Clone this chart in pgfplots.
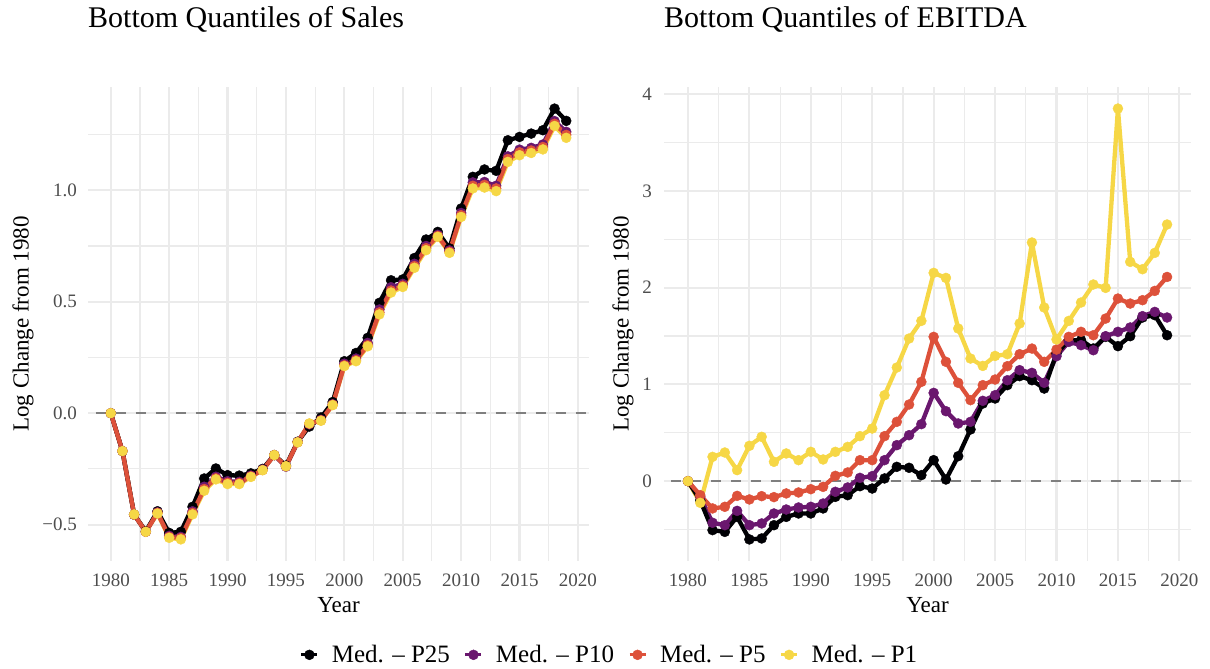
\documentclass[border=0pt]{standalone}
\usepackage{fontspec}
\setmainfont{Liberation Serif}
\usepackage{pgfplots}
\usepackage{pgfplotstable}
\pgfplotsset{compat=1.18}
\definecolor{cPa}{HTML}{000004}
\definecolor{cPb}{HTML}{6A176E}
\definecolor{cPc}{HTML}{DD513A}
\definecolor{cPd}{HTML}{F6D746}
\definecolor{gridc}{HTML}{EBEBEB}
\definecolor{tickc}{HTML}{4D4D4D}
\definecolor{zeroc}{HTML}{7F7F7F}

\pgfplotstableread{
year p25 p10 p5 p1
1980 0 0 0 0
1981 -0.17 -0.17 -0.17 -0.17
1982 -0.455 -0.455 -0.455 -0.454
1983 -0.53 -0.532 -0.532 -0.532
1984 -0.44 -0.445 -0.447 -0.45
1985 -0.537 -0.55 -0.555 -0.559
1986 -0.532 -0.555 -0.56 -0.566
1987 -0.42 -0.44 -0.447 -0.454
1988 -0.293 -0.33 -0.34 -0.348
1989 -0.248 -0.285 -0.292 -0.297
1990 -0.278 -0.305 -0.312 -0.318
1991 -0.28 -0.308 -0.313 -0.318
1992 -0.27 -0.28 -0.283 -0.286
1993 -0.25 -0.253 -0.255 -0.256
1994 -0.188 -0.188 -0.188 -0.188
1995 -0.235 -0.24 -0.238 -0.238
1996 -0.128 -0.13 -0.13 -0.131
1997 -0.06 -0.05 -0.048 -0.046
1998 -0.02 -0.03 -0.032 -0.034
1999 0.05 0.04 0.038 0.036
2000 0.233 0.222 0.215 0.211
2001 0.27 0.245 0.238 0.233
2002 0.338 0.315 0.305 0.30
2003 0.495 0.465 0.452 0.443
2004 0.596 0.565 0.55 0.541
2005 0.6 0.58 0.572 0.566
2006 0.696 0.67 0.66 0.652
2007 0.779 0.75 0.74 0.731
2008 0.813 0.80 0.795 0.791
2009 0.739 0.73 0.724 0.719
2010 0.918 0.898 0.888 0.88
2011 1.06 1.035 1.02 1.008
2012 1.093 1.037 1.024 1.012
2013 1.087 1.02 1.008 0.996
2014 1.224 1.152 1.14 1.127
2015 1.239 1.182 1.17 1.157
2016 1.254 1.19 1.178 1.167
2017 1.269 1.205 1.194 1.183
2018 1.366 1.31 1.298 1.288
2019 1.311 1.262 1.248 1.235
}\sales

\pgfplotstableread{
year p25 p10 p5 p1
1980 0 0 0 0
1981 -0.2 -0.16 -0.145 -0.224
1982 -0.506 -0.43 -0.282 0.251
1983 -0.524 -0.455 -0.265 0.296
1984 -0.369 -0.307 -0.152 0.114
1985 -0.602 -0.455 -0.189 0.365
1986 -0.592 -0.437 -0.155 0.458
1987 -0.455 -0.334 -0.165 0.2
1988 -0.369 -0.293 -0.127 0.286
1989 -0.334 -0.272 -0.117 0.217
1990 -0.334 -0.265 -0.083 0.303
1991 -0.282 -0.231 -0.059 0.224
1992 -0.162 -0.11 0.055 0.303
1993 -0.145 -0.065 0.09 0.354
1994 -0.052 0.034 0.217 0.465
1995 -0.076 0.052 0.217 0.544
1996 0.028 0.217 0.465 0.888
1997 0.148 0.372 0.613 1.174
1998 0.138 0.475 0.792 1.474
1999 0.062 0.589 1.026 1.656
2000 0.217 0.912 1.491 2.152
2001 0.017 0.723 1.233 2.1
2002 0.258 0.596 1.016 1.577
2003 0.534 0.613 0.837 1.267
2004 0.802 0.83 0.992 1.191
2005 0.854 0.888 1.05 1.294
2006 0.992 1.043 1.188 1.312
2007 1.085 1.147 1.312 1.629
2008 1.043 1.119 1.37 2.466
2009 0.957 1.016 1.233 1.794
2010 1.319 1.291 1.36 1.464
2011 1.457 1.439 1.491 1.656
2012 1.457 1.405 1.543 1.846
2013 1.371 1.353 1.508 2.032
2014 1.491 1.498 1.68 1.997
2015 1.395 1.543 1.887 3.85
2016 1.498 1.588 1.835 2.266
2017 1.691 1.705 1.87 2.19
2018 1.715 1.749 1.966 2.359
2019 1.508 1.691 2.11 2.652
}\ebitda

\pgfplotsset{
  panel/.style={
    scale only axis, height=474bp,
    xmin=1978.05, xmax=2020.95,
    axis line style={draw=none}, tick style={draw=none},
    xtick={1980,1985,1990,1995,2000,2005,2010,2015,2020},
    xticklabels={1980,1985,1990,1995,2000,2005,2010,2015,2020},
    minor xtick={1982.5,1987.5,1992.5,1997.5,2002.5,2007.5,2012.5,2017.5},
    grid=both,
    major grid style={gridc, line width=2.2bp},
    minor grid style={gridc, line width=1.1bp},
    ticklabel style={font=\fontsize{19bp}{22bp}\selectfont, text=tickc, inner sep=0pt},
    xticklabel style={anchor=north, yshift=-13bp},
    label style={font=\fontsize{23bp}{27bp}\selectfont, inner sep=0pt},
    xlabel={Year},
    xlabel style={at={(axis description cs:0.5,0)}, anchor=base, yshift=-52bp},
    ylabel={Log Change from 1980},
    title style={at={(axis description cs:0,1)}, anchor=base west, yshift=53.7bp, inner sep=0pt, font=\fontsize{30bp}{36bp}\selectfont},
  },
  ln/.style={line width=4.3bp, no marks, line join=round, forget plot},
  pt/.style={only marks, mark=*, mark size=5bp, mark options={draw=#1, fill=#1}, color=#1,
    legend image code/.code={\draw[#1, line width=3bp] (0bp,0bp) -- (16bp,0bp); \fill[#1] (8bp,0bp) circle (5bp);}},
  zl/.style={zeroc, line width=2.5bp, dash pattern=on 10bp off 10bp, forget plot},
}

\begin{document}
\begin{tikzpicture}[x=1bp,y=1bp]
\path[use as bounding box] (0,0) rectangle (1210,669);
\begin{axis}[panel, at={(88bp,108bp)}, anchor=south west, width=501bp,
  ymin=-0.663, ymax=1.463,
  ytick={-0.5,0,0.5,1}, yticklabels={−0.5,0.0,0.5,1.0},
  minor ytick={-0.25,0.25,0.75,1.25},
  yticklabel style={anchor=east, xshift=-11bp},
  ylabel style={at={(axis description cs:-0.1297,0.5)}, anchor=center},
  title={Bottom Quantiles of Sales},
  legend style={at={(axis description cs:1.039,-0.198)}, anchor=center, draw=none, fill=none,
    legend columns=4, font=\fontsize{25bp}{30bp}\selectfont, nodes={inner sep=0pt},
    /tikz/every odd column/.append style={column sep=13bp},
    /tikz/every even column/.append style={column sep=14bp}},
  legend cell align=left,
]
\addplot[zl] coordinates {(1977,0) (2022,0)};
\addplot[ln, cPd] table[x=year,y=p1] {\sales};
\addplot[ln, cPb] table[x=year,y=p10] {\sales};
\addplot[ln, cPa] table[x=year,y=p25] {\sales};
\addplot[ln, cPc] table[x=year,y=p5] {\sales};
\addplot[pt=cPa] table[x=year,y=p25] {\sales};
\addplot[pt=cPb] table[x=year,y=p10] {\sales};
\addplot[pt=cPc] table[x=year,y=p5] {\sales};
\addplot[pt=cPd] table[x=year,y=p1] {\sales};
\legend{Med. – P25, Med. – P10, Med. – P5, Med. – P1}
\end{axis}
\begin{axis}[panel, at={(664bp,108bp)}, anchor=south west, width=527bp,
  ymin=-0.825, ymax=4.073,
  ytick={0,1,2,3,4}, yticklabels={0,1,2,3,4},
  minor ytick={-0.5,0.5,1.5,2.5,3.5},
  yticklabel style={anchor=east, xshift=-12bp},
  ylabel style={at={(axis description cs:-0.0778,0.5)}, anchor=center},
  title={Bottom Quantiles of EBITDA},
]
\addplot[zl] coordinates {(1977,0) (2022,0)};
\addplot[ln, cPd] table[x=year,y=p1] {\ebitda};
\addplot[ln, cPb] table[x=year,y=p10] {\ebitda};
\addplot[ln, cPa] table[x=year,y=p25] {\ebitda};
\addplot[ln, cPc] table[x=year,y=p5] {\ebitda};
\addplot[pt=cPa] table[x=year,y=p25] {\ebitda};
\addplot[pt=cPb] table[x=year,y=p10] {\ebitda};
\addplot[pt=cPc] table[x=year,y=p5] {\ebitda};
\addplot[pt=cPd] table[x=year,y=p1] {\ebitda};
\end{axis}
\end{tikzpicture}
\end{document}
